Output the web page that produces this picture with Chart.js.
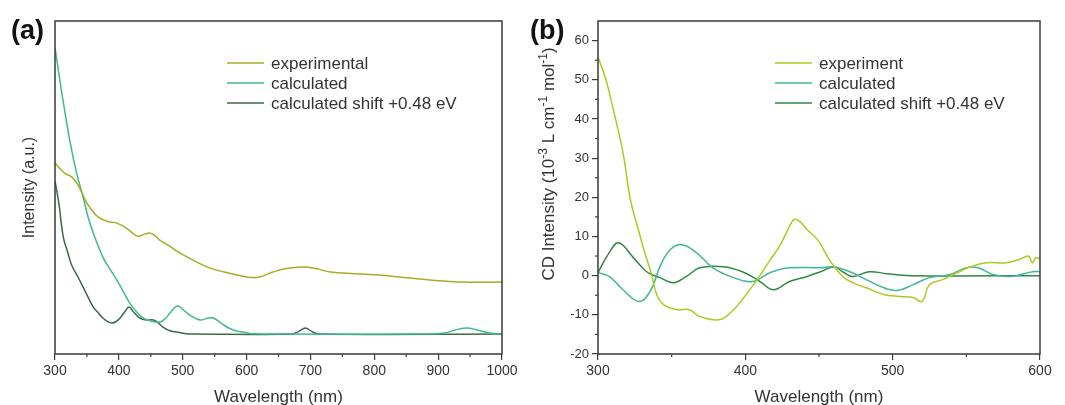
<!DOCTYPE html>
<html>
<head>
<meta charset="utf-8">
<script src="https://cdn.jsdelivr.net/npm/chart.js@4.4.0/dist/chart.umd.min.js"></script>
<style>
  html, body { margin: 0; padding: 0; background: #fff; overflow: hidden; }
  #wrapA { position: absolute; left: 0; top: 0; width: 530px; height: 412px; }
  #wrapB { position: absolute; left: 530px; top: 0; width: 535px; height: 412px; }
</style>
</head>
<body>
<div id="wrapA"><canvas id="chartA" width="530" height="412"></canvas></div>
<div id="wrapB"><canvas id="chartB" width="535" height="412"></canvas></div>
<script>
// ---- panel (a) : absorption, arbitrary units ----
var aWlExp = [300,308,316,326,334,342,350,360,370,383,397,412,425,432,440,449,457,464,480,496,520,543,565,585,605,620,641,660,688,710,731,770,809,850,887,939,1000];
var aExp   = [57.4,55.6,54.2,53.2,51.4,48.5,45.3,42.6,40.8,39.8,39.3,37.8,35.8,35.4,36.0,36.3,35.5,34.2,32.3,30.3,27.8,25.8,24.6,23.7,23.0,23.1,24.6,25.6,26.1,25.6,24.6,24.1,23.7,22.9,22.2,21.6,21.6];

var aWlCalc = [300,311,323,333,344,352,360,375,386,397,407,417,428,438,450,464,472,480,490,496,503,511,527,540,548,558,569,583,594,610,650,880,910,930,945,960,980,1000];
var aCalc   = [91.9,78,64.3,55,47.1,41,36.3,29.1,25.5,22.2,18.7,15.3,12.6,10.8,9.9,9.6,10.5,12.3,14.3,14.1,12.9,11.7,10.2,10.8,10.8,9.6,8.1,7.0,6.6,6.1,6.0,6.0,6.3,7.4,7.8,7.3,6.3,6.0];

var aWlShift = [300,306,313,320,326,335,344,352,360,368,375,382,389,396,402,409,416,423,433,443,454,462,469,480,491,505,520,670,682,692,702,712,1000];
var aShift   = [52,45.3,35.1,30.5,26.7,23.5,20.1,17.0,14.1,12.3,10.8,9.8,9.3,9.8,10.8,12.6,14.1,12.6,10.8,10.2,10.2,9.3,8.1,7.0,6.6,6.1,6.0,6.0,6.8,7.8,6.8,6.0,6.0];

// ---- panel (b) : CD spectra ----
var bWlExp = [300,305,310,317,322,328,332,336,340,345,354,362,369,383,392,398,408,417,423,428,433,437,442,449,457,466,473,482,494,505,514,520,525,534,544,553,564,577,586,592,595,597,600];
var bExp   = [55.8,50.5,43,31.3,19.4,10.9,5.5,0.8,-5,-7.5,-8.7,-8.7,-10.4,-11.2,-8.7,-6.1,-1.0,4.1,7.4,11,14.3,13.8,11.7,9.2,4.1,-0.2,-1.8,-3.1,-4.8,-5.3,-5.6,-6.6,-2.3,-1.0,0.8,2.3,3.3,3.3,4.1,5.0,3.2,4.6,4.3];

var bWlCalc = [300,308,317,328,336,342,349,357,367,378,392,405,417,430,451,460,471,482,494,503,514,525,539,550,558,568,580,595,600];
var bCalc   = [0.8,-0.3,-3.6,-6.6,-3.6,2.3,6.6,7.9,5.8,2.0,-0.5,-1.5,0.8,2.0,2.0,2.2,1.0,-1.0,-3.1,-3.8,-2.3,-0.5,0.3,2.0,2.0,0.3,-0.2,1.0,1.0];

var bWlShift = [300,307,314,324,333,342,351,360,369,385,398,410,419,430,442,451,460,466,473,484,496,512,600];
var bShift   = [0.8,5.5,8.4,4.6,1.0,-0.5,-1.8,-0.2,2.0,2.3,1.0,-1.5,-3.6,-1.5,-0.2,1.0,2.3,1.0,-0.2,1.0,0.5,0,0];

var aLabels = ['experimental', 'calculated', 'calculated shift +0.48 eV'];
var bLabels = ['experiment', 'calculated', 'calculated shift +0.48 eV'];

var FONT = "'Liberation Sans', Arial, sans-serif";
var TXT = '#333333';
var AXIS = '#3a3a3a';
Chart.defaults.font.family = FONT;
Chart.defaults.color = TXT;

function pts(xs, ys) {
    return xs.map(function(x, i) { return {x: x, y: ys[i]}; });
}

function ds(label, xs, ys, color) {
    return {
        label: label,
        data: pts(xs, ys),
        borderColor: color,
        borderWidth: 1.5,
        pointRadius: 0,
        fill: false,
        tension: 0.4
    };
}

// frame, minor ticks, legend, panel letter, custom titles
var decoPlugin = {
    id: 'deco',
    afterDraw: function(chart, args, opts) {
        var ctx = chart.ctx;
        var ca = chart.chartArea;
        var sx = chart.scales.x, sy = chart.scales.y;
        ctx.save();
        ctx.strokeStyle = AXIS;
        ctx.lineWidth = 1.5;
        ctx.strokeRect(ca.left, ca.top, ca.right - ca.left, ca.bottom - ca.top);

        ctx.lineWidth = 1.2;
        (opts.minorX || []).forEach(function(v) {
            var px = sx.getPixelForValue(v);
            ctx.beginPath(); ctx.moveTo(px, ca.bottom); ctx.lineTo(px, ca.bottom + 3); ctx.stroke();
        });
        (opts.minorY || []).forEach(function(v) {
            var py = sy.getPixelForValue(v);
            ctx.beginPath(); ctx.moveTo(ca.left - 3, py); ctx.lineTo(ca.left, py); ctx.stroke();
        });

        // legend
        ctx.font = '17px ' + FONT;
        ctx.textBaseline = 'middle';
        ctx.textAlign = 'left';
        chart.data.datasets.forEach(function(d, i) {
            var y = opts.legendY + i * 20;
            ctx.strokeStyle = d.borderColor;
            ctx.lineWidth = 1.5;
            ctx.beginPath(); ctx.moveTo(opts.legendX, y); ctx.lineTo(opts.legendX + 37, y); ctx.stroke();
            ctx.fillStyle = TXT;
            ctx.fillText(d.label, opts.legendX + 44, y + 1);
        });

        // panel letter
        ctx.font = 'bold 27px ' + FONT;
        ctx.fillStyle = '#111';
        ctx.textBaseline = 'alphabetic';
        ctx.fillText(opts.letter, opts.letterX, 39);

        // y title with superscripts
        if (opts.yTitle) {
            var parts = opts.yTitle;
            ctx.translate(opts.yTitleX, opts.yTitleY);
            ctx.rotate(-Math.PI / 2);
            var total = 0;
            parts.forEach(function(p) {
                ctx.font = (p.sup ? '12px ' : '17px ') + FONT;
                total += ctx.measureText(p.t).width;
            });
            var x = -total / 2;
            ctx.fillStyle = TXT;
            ctx.textBaseline = 'middle';
            parts.forEach(function(p) {
                ctx.font = (p.sup ? '12px ' : '17px ') + FONT;
                ctx.fillText(p.t, x, p.sup ? -5 : 0);
                x += ctx.measureText(p.t).width;
            });
        }
        ctx.restore();
    }
};

function xAxis(min, max) {
    return {
        type: 'linear', min: min, max: max,
        ticks: { stepSize: 100, font: { size: 14 }, color: TXT, padding: 3, maxRotation: 0, autoSkip: false,
                 callback: function(v) { return String(v); } },
        grid: { drawOnChartArea: false, drawTicks: true, tickLength: 6, color: AXIS, lineWidth: 1.2 },
        border: { display: false },
        title: { display: true, text: 'Wavelength (nm)', font: { size: 17 }, color: TXT, padding: { top: 0, bottom: 4 } },
        afterFit: function(s) { s.height = 58; }
    };
}

var chartA = new Chart(document.getElementById('chartA'), {
    type: 'line',
    data: {
        datasets: [
            ds(aLabels[0], aWlExp, aExp, '#a7ad22'),
            ds(aLabels[1], aWlCalc, aCalc, '#3fb98f'),
            ds(aLabels[2], aWlShift, aShift, '#3b6a48')
        ]
    },
    options: {
        responsive: false,
        animation: false,
        layout: { padding: { top: 21, right: 28, left: 0, bottom: 0 } },
        plugins: {
            legend: { display: false },
            tooltip: { enabled: false },
            deco: { letter: '(a)', letterX: 11, legendX: 227, legendY: 63,
                    minorX: [350, 450, 550, 650, 750, 850, 950] }
        },
        scales: {
            x: xAxis(300, 1000),
            y: {
                type: 'linear', min: 0, max: 100,
                ticks: { display: false },
                grid: { display: false },
                border: { display: false },
                title: { display: true, text: 'Intensity (a.u.)', font: { size: 16 }, color: TXT, padding: { top: 20, bottom: 0 } },
                afterFit: function(s) { s.width = 55; }
            }
        }
    },
    plugins: [decoPlugin]
});

var chartB = new Chart(document.getElementById('chartB'), {
    type: 'line',
    data: {
        datasets: [
            ds(bLabels[0], bWlExp, bExp, '#b0c820'),
            ds(bLabels[1], bWlCalc, bCalc, '#45b59a'),
            ds(bLabels[2], bWlShift, bShift, '#2f8a40')
        ]
    },
    options: {
        responsive: false,
        animation: false,
        layout: { padding: { top: 21, right: 25, left: 0, bottom: 0 } },
        plugins: {
            legend: { display: false },
            tooltip: { enabled: false },
            deco: { letter: '(b)', letterX: 0, legendX: 245, legendY: 63,
                    minorX: [350, 450, 550],
                    minorY: [-15, -5, 5, 15, 25, 35, 45, 55],
                    yTitleX: 19, yTitleY: 164,
                    yTitle: [ { t: 'CD Intensity (10' }, { t: '-3', sup: true }, { t: ' L cm' }, { t: '-1', sup: true },
                              { t: ' mol' }, { t: '-1', sup: true }, { t: ')' } ] }
        },
        scales: {
            x: xAxis(300, 600),
            y: {
                type: 'linear', min: -20, max: 65,
                ticks: { stepSize: 10, includeBounds: false, font: { size: 13 }, color: TXT, padding: 3 },
                grid: { drawOnChartArea: false, drawTicks: true, tickLength: 6, color: AXIS, lineWidth: 1.2 },
                border: { display: false },
                title: { display: false },
                afterFit: function(s) { s.width = 68; }
            }
        }
    },
    plugins: [decoPlugin]
});
</script>
</body>
</html>
